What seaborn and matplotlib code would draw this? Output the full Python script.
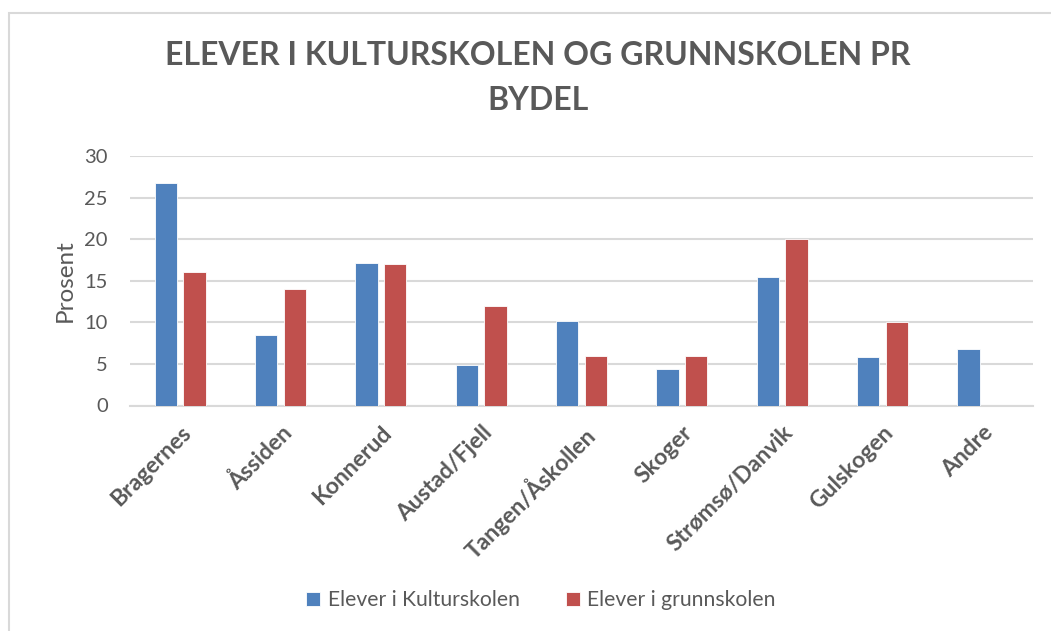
import matplotlib
matplotlib.use("Agg")
import matplotlib.pyplot as plt
import seaborn as sns
import pandas as pd
import numpy as np
from matplotlib.patches import Rectangle

categories = ["Bragernes", "Åssiden", "Konnerud", "Austad/Fjell", "Tangen/Åskollen",
              "Skoger", "Strømsø/Danvik", "Gulskogen", "Andre"]
kulturskolen = [26.8, 8.5, 17.1, 4.9, 10.2, 4.4, 15.4, 5.8, 6.8]
grunnskolen = [16, 14, 17, 12, 6, 6, 20, 10, np.nan]
series_names = ["Elever i Kulturskolen", "Elever i grunnskolen"]
yticks = [0, 5, 10, 15, 20, 25, 30]
title = "ELEVER I KULTURSKOLEN OG GRUNNSKOLEN PR\nBYDEL"
ylabel = "Prosent"

rows = []
for c, v in zip(categories, kulturskolen):
    rows.append({"Bydel": c, "Serie": series_names[0], "Verdi": v})
for c, v in zip(categories, grunnskolen):
    if not np.isnan(v):
        rows.append({"Bydel": c, "Serie": series_names[1], "Verdi": v})
df = pd.DataFrame(rows)

sns.set_theme(style="white")
plt.rcParams["font.family"] = ["Lato", "DejaVu Sans"]

W, H = 1051, 631
fig = plt.figure(figsize=(W / 100, H / 100), dpi=100)
ax = fig.add_axes([130 / W, 1 - 405.5 / H, (1033 - 130) / W, (405.5 - 156) / H])

gray_text = "#595959"
grid_col = "#D9D9D9"
palette = {series_names[0]: "#4F81BD", series_names[1]: "#C0504D"}

sns.barplot(data=df, x="Bydel", y="Verdi", hue="Serie", order=categories,
            hue_order=series_names, palette=palette, width=0.57, gap=0.22,
            edgecolor="#ffffff", linewidth=0.6, saturation=1, ax=ax, legend=True,
            zorder=3)

ax.set_ylim(0, 30)
ax.set_xlim(-0.5, len(categories) - 0.5)
ax.set_yticks(yticks)
ax.yaxis.grid(True, color=grid_col, linewidth=1.5, zorder=0)
ax.set_axisbelow(True)
for s in ["top", "right", "left"]:
    ax.spines[s].set_visible(False)
ax.spines["bottom"].set_color(grid_col)
ax.spines["bottom"].set_linewidth(1.5)
ax.tick_params(axis="both", length=0, colors=gray_text)
ax.tick_params(axis="y", labelsize=14.5, pad=16)
ax.set_xlabel("")
ax.set_ylabel(ylabel, fontsize=17.5, color=gray_text, labelpad=6)
ax.set_xticks(range(len(categories)))
ax.set_xticklabels(categories, rotation=45, ha="right", rotation_mode="anchor",
                   fontsize=16.5, fontweight="bold", color=gray_text)
ax.tick_params(axis="x", pad=12)

leg = ax.get_legend()
handles = leg.legend_handles
leg.remove()
fig.legend(handles, series_names, loc="center", bbox_to_anchor=(541 / W, 1 - 600 / H),
           ncol=2, frameon=False, fontsize=15.2, labelcolor=gray_text,
           handlelength=0.65, handleheight=0.65, handletextpad=0.35, columnspacing=2.2)

fig.text(538 / W, 1 - 78 / H, title, ha="center", va="center", fontsize=23,
         fontweight="bold", color=gray_text, linespacing=1.65)

fig.patches.append(Rectangle((8.5 / W, -0.1), 1.2, 1 - 12.5 / H + 0.1, transform=fig.transFigure,
                             fill=False, edgecolor=grid_col, linewidth=1.5))

fig.savefig("out.png", dpi=100)
